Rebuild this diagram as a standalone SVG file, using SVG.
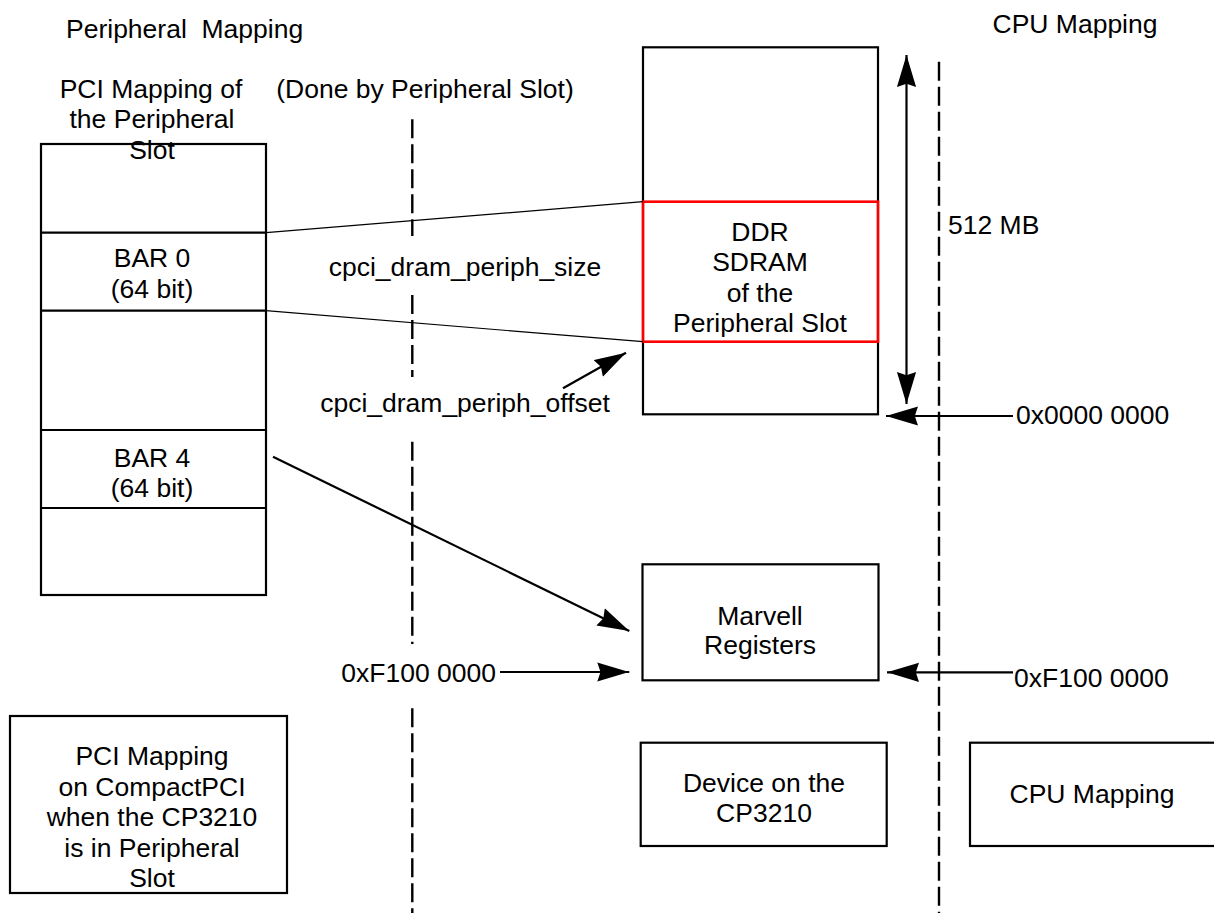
<svg xmlns="http://www.w3.org/2000/svg" width="1214" height="913" viewBox="0 0 1214 913">
<style>
text{font-family:"Liberation Sans",Arial,sans-serif;font-size:26.5px;fill:#000}
.c{text-anchor:middle}
.e{text-anchor:end}
.box{fill:#fff;stroke:#000;stroke-width:2.2}
.red{fill:none;stroke:#f00;stroke-width:2.6}
.thin{stroke:#000;stroke-width:1.2;fill:none}
.arr{stroke:#000;stroke-width:2.2;fill:none;marker-end:url(#ah)}
.dash{stroke:#000;stroke-width:2.4;stroke-dasharray:19 6;fill:none}
</style>
<defs>
<marker id="ah" markerUnits="userSpaceOnUse" markerWidth="32" markerHeight="20" viewBox="0 0 30 18" refX="30" refY="9" orient="auto-start-reverse">
<path d="M0,0 L30,9 L0,18 L3,9 Z" fill="#000"/>
</marker>
</defs>
<rect width="1214" height="913" fill="#fff"/>

<g id="headers">
<text x="66" y="38" xml:space="preserve">Peripheral  Mapping</text>
<text class="c" x="425" y="97.7">(Done by Peripheral Slot)</text>
<text class="c" x="1075" y="33.3">CPU Mapping</text>
</g>

<g id="dividers">
<path class="dash" d="M412.3,119.3V236 M412.3,295V377 M412.3,441.7V644 M412.3,708.3V913"/>
<path class="dash" d="M939,61.7V913"/>
</g>

<g id="pci-column">
<rect class="box" x="41" y="144" width="225" height="451"/>
<line class="box" x1="41" y1="232.7" x2="266" y2="232.7"/>
<line class="box" x1="41" y1="310.7" x2="266" y2="310.7"/>
<line class="box" x1="41" y1="430" x2="266" y2="430"/>
<line class="box" x1="41" y1="508" x2="266" y2="508"/>
<text class="c" x="151" y="97.7">PCI Mapping of</text>
<text class="c" x="152" y="128.3">the Peripheral</text>
<text class="c" x="152" y="159.3">Slot</text>
</g>

<g id="bar0">
<text class="c" x="152" y="266.7">BAR 0</text>
<text class="c" x="152" y="297.7">(64 bit)</text>
</g>

<g id="bar4">
<text class="c" x="152" y="466.7">BAR 4</text>
<text class="c" x="152" y="496.7">(64 bit)</text>
</g>

<g id="cpu-column">
<rect class="box" x="643" y="47.3" width="235" height="367"/>
</g>

<g id="ddr">
<rect class="red" x="643" y="201.7" width="235" height="140"/>
<text class="c" x="760" y="240.7">DDR</text>
<text class="c" x="760" y="271">SDRAM</text>
<text class="c" x="760" y="301.7">of the</text>
<text class="c" x="760" y="332.3">Peripheral Slot</text>
</g>

<g id="marvell">
<rect class="box" x="642.5" y="564.3" width="236" height="116"/>
<text class="c" x="760" y="625">Marvell</text>
<text class="c" x="760" y="654.3">Registers</text>
</g>

<g id="legend-pci">
<rect class="box" x="10" y="716" width="277" height="177"/>
<text class="c" x="152" y="765">PCI Mapping</text>
<text class="c" x="152" y="796">on CompactPCI</text>
<text class="c" x="152" y="826">when the CP3210</text>
<text class="c" x="152" y="856.7">is in Peripheral</text>
<text class="c" x="152" y="886.7">Slot</text>
</g>

<g id="legend-device">
<rect class="box" x="640.7" y="742.7" width="246" height="103.3"/>
<text class="c" x="764" y="791.7">Device on the</text>
<text class="c" x="764" y="821.7">CP3210</text>
</g>

<g id="legend-cpu">
<rect class="box" x="970" y="742.7" width="260" height="103.3"/>
<text class="c" x="1092" y="803.3">CPU Mapping</text>
</g>

<g id="labels">
<text class="c" x="465" y="276">cpci_dram_periph_size</text>
<text class="c" x="465" y="411.7">cpci_dram_periph_offset</text>
<text x="948" y="234.3">512 MB</text>
<text x="1016" y="424">0x0000 0000</text>
<text class="e" x="496" y="681.7">0xF100 0000</text>
<text x="1014" y="686.7">0xF100 0000</text>
</g>

<g id="connectors">
<line class="thin" x1="266" y1="232.7" x2="643" y2="201.7"/>
<line class="thin" x1="266" y1="310.7" x2="643" y2="341.7"/>
<line class="arr" x1="273" y1="456.7" x2="629.3" y2="631"/>
<line class="arr" x1="563" y1="388.3" x2="626" y2="352.7"/>
<line class="arr" x1="500" y1="672" x2="629.3" y2="672"/>
<line class="arr" x1="1013" y1="672.3" x2="887" y2="672.3"/>
<line class="arr" x1="1013" y1="416" x2="886" y2="416"/>
<line class="arr" style="marker-start:url(#ah)" x1="906.5" y1="55" x2="906.5" y2="404"/>
</g>
</svg>
